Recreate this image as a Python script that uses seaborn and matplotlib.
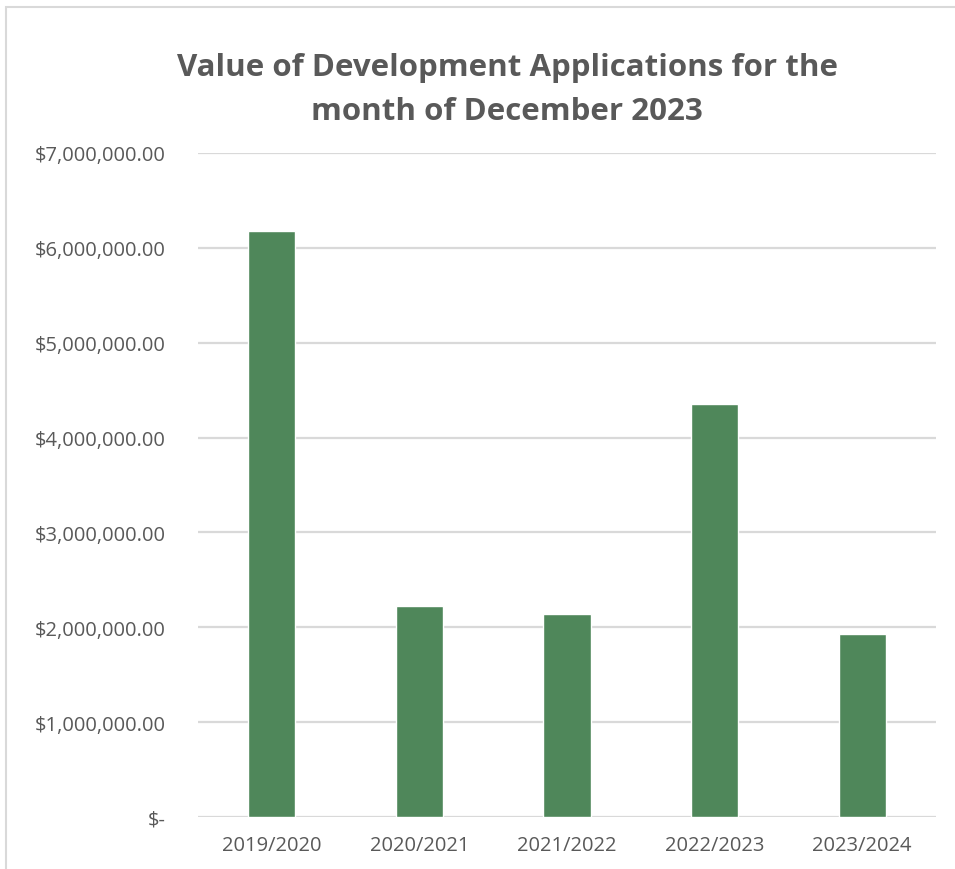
import matplotlib
matplotlib.use("Agg")
import matplotlib.pyplot as plt
import matplotlib.ticker as mticker
from matplotlib.patches import Rectangle
import seaborn as sns
import pandas as pd

# Financial years and the total value of applications lodged in December
years = ["2019/2020", "2020/2021", "2021/2022", "2022/2023", "2023/2024"]
values = [6180000, 2220000, 2140000, 4350000, 1930000]
y_ticks = [0, 1000000, 2000000, 3000000, 4000000, 5000000, 6000000, 7000000]
title = "Value of Development Applications for the\nmonth of December 2023"

TEXT = "#595959"
BAR = "#4F875A"
GRID = "#D9D9D9"

sns.set_theme(style="white")
plt.rcParams["font.family"] = ["Open Sans", "DejaVu Sans"]

df = pd.DataFrame({"year": years, "value": values})

fig = plt.figure(figsize=(9.55, 8.7), dpi=100)
ax = fig.add_axes([198 / 955, 52 / 870, 738 / 955, 664 / 870])

sns.barplot(data=df, x="year", y="value", color=BAR, width=0.32,
            saturation=1, ax=ax, zorder=3)

ax.set_ylim(0, 7000000)
ax.set_xlim(-0.5, len(years) - 0.5)
ax.set_yticks(y_ticks)


def money(v, _pos):
    if v == 0:
        return "$-"
    return f"${v:,.2f}"


ax.yaxis.set_major_formatter(mticker.FuncFormatter(money))
ax.grid(axis="y", color=GRID, linewidth=1.6, zorder=0)
ax.grid(axis="x", visible=False)
for s in ax.spines.values():
    s.set_visible(False)
ax.tick_params(axis="both", length=0, colors=TEXT, labelsize=14.5)
ax.tick_params(axis="y", pad=23.5)
ax.tick_params(axis="x", pad=13)
ax.set_xlabel("")
ax.set_ylabel("")

fig.text(507 / 955, 1 - 90 / 870, title, ha="center", va="center",
         fontsize=22.5, fontweight="bold", color=TEXT, linespacing=1.62)

# chart frame
fig.patches.append(Rectangle((6 / 955, -0.1), 1.2, 1 - 8 / 870 + 0.1,
                             transform=fig.transFigure, fill=False,
                             edgecolor="#D9D9D9", linewidth=1.5))

fig.savefig("out.png", dpi=100, facecolor="white")
